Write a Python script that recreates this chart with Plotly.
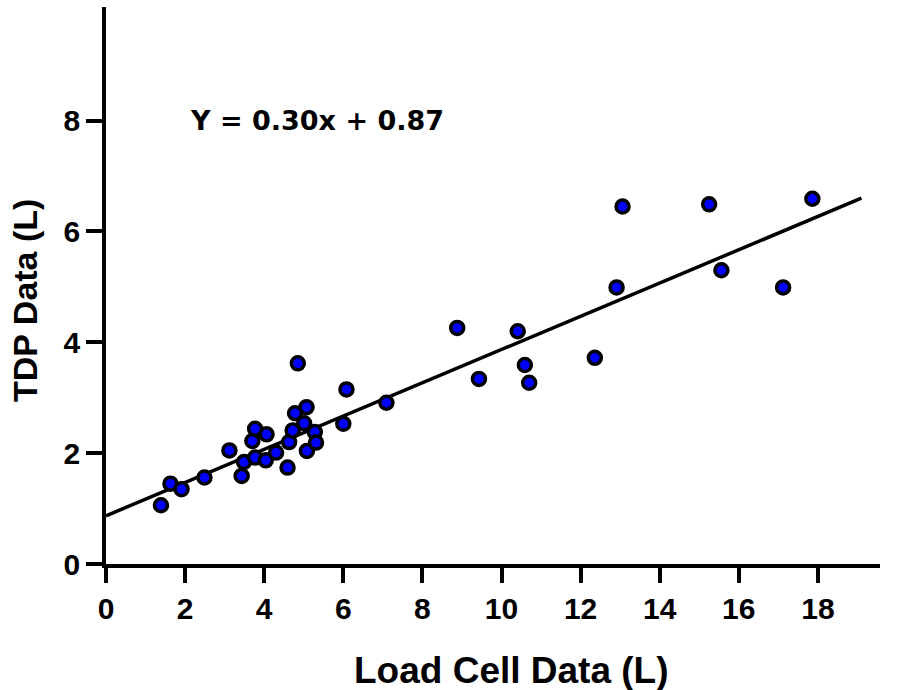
import plotly.graph_objects as go

# Data
load_cell = [1.39, 1.63, 1.91, 2.49, 3.12, 3.43, 3.49, 3.70, 3.77, 3.77,
             4.04, 4.06, 4.30, 4.59, 4.63, 4.72, 4.78, 4.85, 5.01, 5.07,
             5.08, 5.28, 5.31, 6.00, 6.08, 7.09, 8.88, 9.43, 10.41, 10.59,
             10.70, 12.36, 12.91, 13.06, 15.25, 15.56, 17.12, 17.86]
tdp = [1.06, 1.45, 1.35, 1.56, 2.05, 1.59, 1.84, 2.22, 2.44, 1.92,
       1.87, 2.34, 2.01, 1.74, 2.20, 2.41, 2.72, 3.62, 2.54, 2.83,
       2.04, 2.38, 2.19, 2.53, 3.15, 2.91, 4.26, 3.34, 4.20, 3.59,
       3.27, 3.72, 4.99, 6.45, 6.49, 5.30, 4.99, 6.59]

fit_slope = 0.30
fit_intercept = 0.87
fit_x = [0, 19.1]
fit_y = [fit_slope * v + fit_intercept for v in fit_x]

x_ticks = [0, 2, 4, 6, 8, 10, 12, 14, 16, 18]
y_ticks = [0, 2, 4, 6, 8]

equation_text = "Y = 0.30x + 0.87"
x_title = "Load Cell Data (L)"
y_title = "TDP Data (L)"

fig = go.Figure()
fig.add_trace(go.Scatter(x=fit_x, y=fit_y, mode="lines",
                         line=dict(color="black", width=3.5),
                         showlegend=False, hoverinfo="skip"))
fig.add_trace(go.Scatter(x=load_cell, y=tdp, mode="markers",
                         marker=dict(color="#0000ff", size=13,
                                     line=dict(color="black", width=3.5)),
                         showlegend=False))

tick_font = dict(family="Liberation Sans, Arial", size=30, color="black", weight="bold")

fig.update_layout(
    width=899, height=690,
    margin=dict(l=106, r=19, t=7, b=126),
    paper_bgcolor="white", plot_bgcolor="white",
    xaxis=dict(range=[0, 19.57], tickvals=x_ticks, ticktext=[str(v) for v in x_ticks],
               showgrid=False, zeroline=False, showline=True, linecolor="black",
               linewidth=3.5, ticks="outside", ticklen=15, tickwidth=4,
               tickcolor="black", tickfont=tick_font),
    yaxis=dict(range=[0, 10.05], tickvals=y_ticks, ticktext=[str(v) for v in y_ticks],
               showgrid=False, zeroline=False, showline=True, linecolor="black",
               linewidth=3.5, ticks="outside", ticklen=16, tickwidth=4,
               tickcolor="black", tickfont=tick_font),
    annotations=[
        dict(text=equation_text, xref="paper", yref="paper", x=(188 - 106) / 774,
             y=(564 - 120) / 557, xanchor="left", yanchor="middle", showarrow=False,
             font=dict(family="Comic Sans MS, DejaVu Sans", size=27, color="black",
                       weight="bold")),
        dict(text=x_title, xref="paper", yref="paper", x=(511 - 106) / 774,
             y=-(671 - 564) / 557, xanchor="center", yanchor="middle", showarrow=False,
             font=dict(family="Liberation Sans, Arial", size=37, color="black",
                       weight="bold")),
        dict(text=y_title, xref="paper", yref="paper", x=-(106 - 25) / 774,
             y=(564 - 301) / 557, xanchor="center", yanchor="middle", showarrow=False,
             textangle=-90,
             font=dict(family="Liberation Sans, Arial", size=34, color="black",
                       weight="bold")),
    ],
)

fig.write_html("out.html", config={"displayModeBar": False},
               post_script="document.body.style.margin='0';")
